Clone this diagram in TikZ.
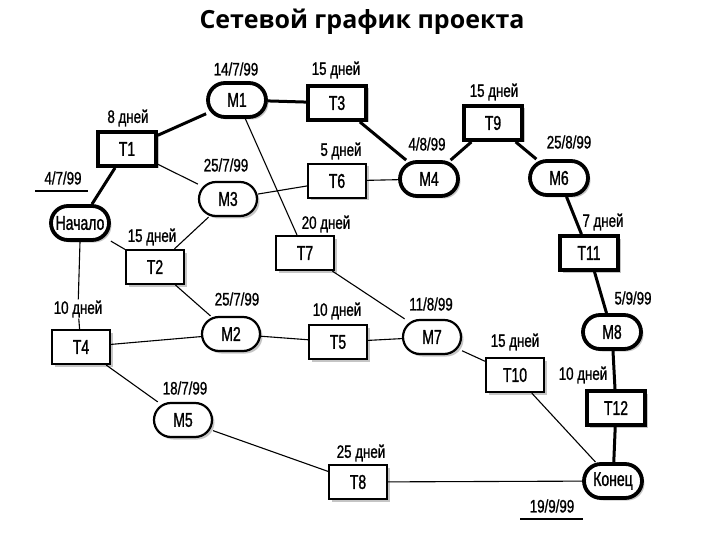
\documentclass[tikz,border=0pt]{standalone}
\usepackage{fontspec}
\setmainfont{Liberation Sans}[FakeStretch=0.74, FakeBold=1]
\newfontfamily\nodefont{Liberation Sans}[FakeStretch=0.7, FakeBold=1.2]
\newfontfamily\titlefont{Open Sans}
\usepackage{tikz}
\usetikzlibrary{positioning,shadows}

\begin{document}
\begin{tikzpicture}[
    x=1pt, y=-1pt,
    task/.style={draw, fill=white, line width=2.2pt, minimum width=58pt, minimum height=34pt, inner sep=0pt, font=\nodefont\fontsize{20}{22}\selectfont,
        drop shadow={shadow xshift=2.5pt, shadow yshift=-2.5pt, fill=black!45}},
    milestone/.style={task, rounded corners=17pt},
    crit/.style={line width=3.8pt},
    lbl/.style={inner sep=0pt, font=\fontsize{18}{20}\selectfont},
    link/.style={line width=1.1pt},
    critlink/.style={line width=3pt}
]
\useasboundingbox (0,0) rectangle (720,540);

% Title
\node[font=\titlefont\bfseries\fontsize{25}{28}\selectfont] (title) at (362,22) {Сетевой график проекта};

% Critical path
\node[milestone, crit] (start) at (80,223) {Начало};
\node[task, crit] (T1) at (127,149) {T1};
\node[milestone, crit] (M1) at (237,100) {M1};
\node[task, crit] (T3) at (337,103) {T3};
\node[milestone, crit] (M4) at (429,179) {M4};
\node[task, crit] (T9) at (493,123) {T9};
\node[milestone, crit] (M6) at (559,178) {M6};
\node[task, crit] (T11) at (589,253) {T11};
\node[milestone, crit] (M8) at (612,332) {M8};
\node[task, crit] (T12) at (616,408) {T12};
\node[milestone, crit] (finish) at (613,481) {Конец};

% Other tasks and milestones
\node[milestone] (M3) at (228,199) {M3};
\node[task] (T6) at (337,181) {T6};
\node[task] (T2) at (155,267) {T2};
\node[task] (T7) at (305,253) {T7};
\node[task] (T4) at (81,347) {T4};
\node[milestone] (M2) at (231,334) {M2};
\node[task] (T5) at (338,342) {T5};
\node[milestone] (M7) at (432,337) {M7};
\node[task] (T10) at (515,375) {T10};
\node[milestone] (M5) at (183,420) {M5};
\node[task] (T8) at (358,482) {T8};

% Durations and dates
\node[lbl] (dStart) at (63,178) {4/7/99};
\node[lbl] (dT1) at (128,118) {8 дней};
\node[lbl] (dM1) at (236,69) {14/7/99};
\node[lbl] (dT3) at (336,70) {15 дней};
\node[lbl] (dM3) at (226,165) {25/7/99};
\node[lbl] (dT6) at (341,151) {5 дней};
\node[lbl] (dT2) at (152,237) {15 дней};
\node[lbl] (dT7) at (326,224) {20 дней};
\node[lbl] (dM4) at (427,144) {4/8/99};
\node[lbl] (dT9) at (494,92) {15 дней};
\node[lbl] (dM6) at (569,142) {25/8/99};
\node[lbl] (dT11) at (603,222) {7 дней};
\node[lbl] (dM8) at (633,298) {5/9/99};
\node[lbl] (dT12) at (583,375) {10 дней};
\node[lbl] (dT10) at (515,342) {15 дней};
\node[lbl] (dM7) at (431,304) {11/8/99};
\node[lbl] (dT5) at (337,311) {10 дней};
\node[lbl] (dM2) at (237,299) {25/7/99};
\node[lbl, fill=white, inner sep=1pt] (dT4) at (78,309) {10 дней};
\node[lbl] (dM5) at (185,388) {18/7/99};
\node[lbl] (dT8) at (361,453) {25 дней};
\node[lbl] (dEnd) at (552,506) {19/9/99};

% Underlines of the start and end dates
\coordinate (uS1) at (35,191);
\coordinate (uS2) at (88,191);
\coordinate (uE1) at (520,519);
\coordinate (uE2) at (583,519);
\draw[link] (uS1) -- (uS2);
\draw[link] (uE1) -- (uE2);

% Critical links
\draw[critlink] (start) -- (T1);
\draw[critlink] (T1) -- (M1);
\draw[critlink] (M1) -- (T3);
\draw[critlink] (T3) -- (M4);
\draw[critlink] (M4) -- (T9);
\draw[critlink] (T9) -- (M6);
\draw[critlink] (M6) -- (T11);
\draw[critlink] (T11) -- (M8);
\draw[critlink] (M8) -- (T12);
\draw[critlink] (T12) -- (finish);

% Other links
\draw[link] (start) -- (T2);
\draw[link] (start.south) -- (dT4);
\draw[link] (dT4) -- (T4);
\draw[link] (T1) -- (M3);
\draw[link] (M1) -- (T7);
\draw[link] (T2) -- (M3);
\draw[link] (T2) -- (M2);
\draw[link] (M3) -- (T6);
\draw[link] (T6) -- (M4);
\draw[link] (T7) -- (M7);
\draw[link] (T4) -- (M2);
\draw[link] (T4) -- (M5);
\draw[link] (M2) -- (T5);
\draw[link] (T5) -- (M7);
\draw[link] (M7) -- (T10);
\draw[link] (T10) -- (finish);
\draw[link] (M5) -- (T8);
\draw[link] (T8) -- (finish);

\end{tikzpicture}
\end{document}
